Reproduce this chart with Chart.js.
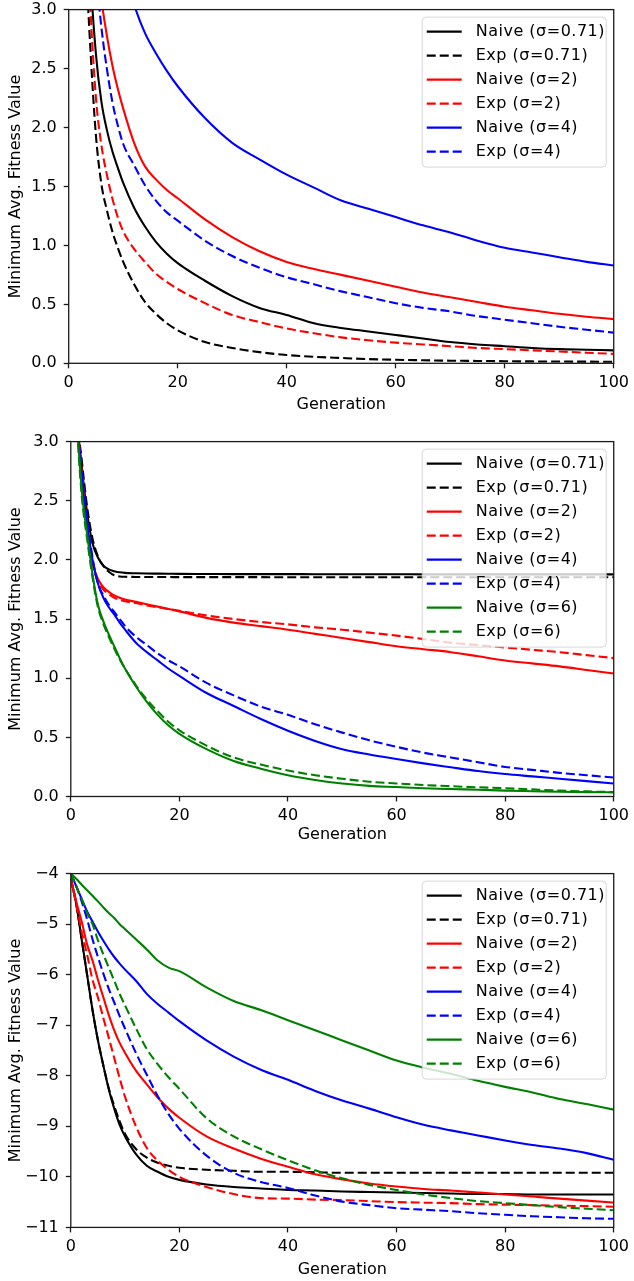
<!DOCTYPE html>
<html>
<head>
<meta charset="utf-8">
<script src="https://cdn.jsdelivr.net/npm/chart.js@4.4.1/dist/chart.umd.min.js"></script>
<style>
  html, body { margin: 0; padding: 0; background: #fff; overflow: hidden; }
  #wrap { position: relative; width: 634px; height: 1281px; }
  #wrap canvas { position: absolute; left: 0; }
</style>
</head>
<body>
<div id="wrap">
  <canvas id="c1" width="634" height="427" style="top:-7px"></canvas>
  <canvas id="c2" width="634" height="425" style="top:425px"></canvas>
  <canvas id="c3" width="634" height="428" style="top:857.3px"></canvas>
</div>
<script>
// sampled generations (shared by all three panels)
const generations = [0, 1, 2, 3, 4, 5, 6, 7, 8, 9, 10, 12, 14, 16, 18, 20, 25, 30, 35, 40, 45, 50, 55, 60, 65, 70, 75, 80, 85, 90, 95, 100];

const labels4 = ['Naive (σ=0.71)', 'Exp (σ=0.71)', 'Naive (σ=2)', 'Exp (σ=2)', 'Naive (σ=4)', 'Exp (σ=4)'];
const labels6 = labels4.concat(['Naive (σ=6)', 'Exp (σ=6)']);

// top panel
const p1Naive071 = [9, 7.5, 6, 4.6, 3.3, 2.62, 2.22, 1.98, 1.8, 1.66, 1.53, 1.32, 1.16, 1.03, 0.93, 0.85, 0.70, 0.57, 0.47, 0.41, 0.34, 0.30, 0.27, 0.24, 0.21, 0.18, 0.16, 0.145, 0.13, 0.12, 0.115, 0.11];
const p1Exp071 = [9, 7, 5, 3.6, 2.65, 1.93, 1.52, 1.3, 1.12, 0.98, 0.86, 0.67, 0.52, 0.42, 0.34, 0.28, 0.18, 0.13, 0.095, 0.07, 0.055, 0.045, 0.036, 0.03, 0.026, 0.022, 0.02, 0.018, 0.016, 0.015, 0.014, 0.013];
const p1Naive2 = [10, 8, 6.5, 5, 4, 3.45, 3.08, 2.78, 2.53, 2.33, 2.16, 1.87, 1.67, 1.56, 1.47, 1.40, 1.22, 1.07, 0.95, 0.86, 0.8, 0.75, 0.7, 0.65, 0.6, 0.56, 0.52, 0.48, 0.45, 0.42, 0.395, 0.375];
const p1Exp2 = [10, 8, 6, 4.2, 3.0, 2.25, 1.85, 1.6, 1.4, 1.24, 1.12, 0.97, 0.86, 0.76, 0.69, 0.63, 0.51, 0.41, 0.35, 0.295, 0.255, 0.22, 0.195, 0.175, 0.16, 0.145, 0.13, 0.12, 0.11, 0.1, 0.09, 0.08];
const p1Naive4 = [12, 10, 8.5, 7.2, 6.2, 5.4, 4.8, 4.3, 3.9, 3.6, 3.35, 3.04, 2.8, 2.63, 2.48, 2.35, 2.08, 1.87, 1.73, 1.6, 1.49, 1.38, 1.31, 1.24, 1.17, 1.11, 1.04, 0.98, 0.94, 0.9, 0.86, 0.83];
const p1Exp4 = [10, 8, 6.5, 5.2, 4.1, 3.35, 2.85, 2.5, 2.22, 2.02, 1.86, 1.68, 1.51, 1.38, 1.28, 1.21, 1.04, 0.91, 0.81, 0.73, 0.67, 0.61, 0.56, 0.51, 0.47, 0.44, 0.4, 0.37, 0.34, 0.31, 0.285, 0.26];

// middle panel
const p2Naive071 = [4.4, 3.3, 2.8, 2.4, 2.14, 2.02, 1.95, 1.92, 1.905, 1.895, 1.89, 1.887, 1.885, 1.884, 1.883, 1.882, 1.881, 1.880, 1.880, 1.880, 1.879, 1.879, 1.879, 1.879, 1.878, 1.878, 1.878, 1.878, 1.878, 1.878, 1.878, 1.878];
const p2Exp071 = [4.4, 3.3, 2.85, 2.45, 2.18, 2.03, 1.95, 1.9, 1.87, 1.86, 1.857, 1.856, 1.855, 1.855, 1.855, 1.854, 1.854, 1.854, 1.854, 1.853, 1.853, 1.853, 1.853, 1.853, 1.853, 1.853, 1.853, 1.853, 1.853, 1.853, 1.853, 1.853];
const p2Naive2 = [4.4, 3.3, 2.75, 2.3, 1.98, 1.84, 1.77, 1.73, 1.70, 1.68, 1.665, 1.645, 1.625, 1.605, 1.585, 1.565, 1.51, 1.47, 1.44, 1.41, 1.375, 1.34, 1.305, 1.27, 1.245, 1.22, 1.185, 1.15, 1.125, 1.10, 1.07, 1.04];
const p2Exp2 = [4.4, 3.3, 2.75, 2.3, 1.97, 1.82, 1.75, 1.71, 1.68, 1.665, 1.65, 1.635, 1.615, 1.6, 1.585, 1.57, 1.53, 1.5, 1.475, 1.455, 1.43, 1.41, 1.385, 1.36, 1.33, 1.30, 1.28, 1.26, 1.24, 1.22, 1.195, 1.17];
const p2Naive4 = [4.4, 3.3, 2.7, 2.3, 2.0, 1.8, 1.68, 1.6, 1.54, 1.47, 1.41, 1.30, 1.22, 1.15, 1.08, 1.02, 0.875, 0.765, 0.655, 0.556, 0.47, 0.40, 0.355, 0.317, 0.28, 0.247, 0.215, 0.19, 0.17, 0.15, 0.13, 0.11];
const p2Exp4 = [4.4, 3.3, 2.75, 2.35, 2.02, 1.8, 1.7, 1.62, 1.56, 1.5, 1.44, 1.35, 1.28, 1.21, 1.15, 1.1, 0.96, 0.855, 0.76, 0.69, 0.61, 0.54, 0.475, 0.42, 0.37, 0.33, 0.29, 0.25, 0.225, 0.2, 0.18, 0.16];
const p2Naive6 = [4.3, 3.3, 2.6, 2.22, 1.88, 1.62, 1.48, 1.37, 1.27, 1.17, 1.08, 0.93, 0.80, 0.69, 0.60, 0.53, 0.40, 0.30, 0.235, 0.18, 0.14, 0.11, 0.09, 0.08, 0.07, 0.063, 0.057, 0.05, 0.045, 0.04, 0.037, 0.035];
const p2Exp6 = [4.3, 3.25, 2.55, 2.18, 1.85, 1.6, 1.46, 1.35, 1.25, 1.16, 1.08, 0.94, 0.82, 0.72, 0.63, 0.56, 0.43, 0.33, 0.27, 0.22, 0.18, 0.15, 0.125, 0.11, 0.097, 0.087, 0.078, 0.07, 0.06, 0.05, 0.043, 0.037];

// bottom panel
const p3Naive071 = [-4.1, -4.6, -5.3, -6.0, -6.7, -7.3, -7.8, -8.27, -8.65, -8.97, -9.2, -9.55, -9.78, -9.9, -10.0, -10.06, -10.15, -10.2, -10.23, -10.26, -10.27, -10.29, -10.3, -10.31, -10.32, -10.33, -10.34, -10.34, -10.35, -10.35, -10.35, -10.35];
const p3Exp071 = [-4.1, -4.6, -5.3, -6.0, -6.7, -7.3, -7.8, -8.25, -8.6, -8.9, -9.15, -9.45, -9.62, -9.72, -9.78, -9.82, -9.86, -9.88, -9.9, -9.9, -9.91, -9.92, -9.92, -9.92, -9.92, -9.92, -9.92, -9.92, -9.92, -9.92, -9.92, -9.92];
const p3Naive2 = [-4.1, -4.55, -4.95, -5.4, -5.72, -6.1, -6.45, -6.8, -7.1, -7.35, -7.55, -7.9, -8.17, -8.43, -8.65, -8.83, -9.2, -9.44, -9.64, -9.8, -9.95, -10.05, -10.13, -10.19, -10.24, -10.27, -10.31, -10.35, -10.39, -10.43, -10.47, -10.51];
const p3Exp2 = [-4.1, -4.6, -5.15, -5.6, -6.1, -6.45, -6.86, -7.25, -7.65, -8.05, -8.42, -9.0, -9.43, -9.68, -9.86, -10.0, -10.2, -10.34, -10.42, -10.43, -10.45, -10.46, -10.48, -10.5, -10.51, -10.52, -10.54, -10.55, -10.56, -10.57, -10.58, -10.59];
const p3Naive4 = [-4.0, -4.25, -4.5, -4.75, -4.95, -5.15, -5.33, -5.5, -5.65, -5.78, -5.9, -6.12, -6.38, -6.58, -6.75, -6.92, -7.3, -7.62, -7.88, -8.08, -8.3, -8.49, -8.65, -8.82, -8.97, -9.08, -9.18, -9.28, -9.37, -9.44, -9.53, -9.66];
const p3Exp4 = [-4.0, -4.25, -4.55, -4.9, -5.3, -5.65, -5.98, -6.28, -6.55, -6.82, -7.07, -7.55, -7.98, -8.4, -8.76, -9.05, -9.58, -9.92, -10.1, -10.22, -10.37, -10.49, -10.56, -10.62, -10.65, -10.68, -10.72, -10.75, -10.78, -10.8, -10.82, -10.83];
const p3Naive6 = [-4.0, -4.1, -4.22, -4.33, -4.44, -4.55, -4.67, -4.78, -4.88, -5.0, -5.1, -5.3, -5.5, -5.72, -5.86, -5.93, -6.25, -6.52, -6.7, -6.9, -7.1, -7.3, -7.5, -7.7, -7.84, -7.96, -8.1, -8.22, -8.33, -8.46, -8.56, -8.67];
const p3Exp6 = [-4.0, -4.25, -4.5, -4.78, -5.0, -5.32, -5.6, -5.86, -6.12, -6.38, -6.61, -7.06, -7.47, -7.77, -8.03, -8.26, -8.84, -9.2, -9.45, -9.67, -9.87, -10.03, -10.16, -10.26, -10.35, -10.42, -10.48, -10.52, -10.56, -10.6, -10.63, -10.66];

const lineColors = ['#000000', '#000000', '#ff0000', '#ff0000', '#0000ff', '#0000ff', '#008000', '#008000'];
const dashed = [false, true, false, true, false, true, false, true];

Chart.defaults.font.family = '"DejaVu Sans", sans-serif';
Chart.defaults.font.size = 16;
Chart.defaults.color = '#000';

const spineColor = '#1a1a1a';

// legend box drawn inside the plot, upper right
const insideLegend = {
    id: 'insideLegend',
    afterDatasetsDraw(chart) {
        const { ctx, chartArea } = chart;
        const sets = chart.data.datasets;
        const w = 184, h = 24 * sets.length + 6;
        const x = chartArea.right - 8 - w;
        const y = chartArea.top + 7;
        ctx.save();
        ctx.beginPath();
        ctx.roundRect(x + 0.5, y + 0.5, w, h, 4);
        ctx.fillStyle = 'rgba(255,255,255,0.8)';
        ctx.fill();
        ctx.strokeStyle = 'rgba(204,204,204,0.8)';
        ctx.lineWidth = 1;
        ctx.stroke();
        ctx.font = '16px "DejaVu Sans"';
        ctx.letterSpacing = '0.5px';
        ctx.textBaseline = 'middle';
        sets.forEach((ds, i) => {
            const cy = y + 15 + 24 * i;
            ctx.beginPath();
            ctx.setLineDash(ds.borderDash || []);
            ctx.strokeStyle = ds.borderColor;
            ctx.lineWidth = ds.borderWidth;
            ctx.moveTo(x + 5, cy);
            ctx.lineTo(x + 40, cy);
            ctx.stroke();
            ctx.setLineDash([]);
            ctx.fillStyle = '#000';
            ctx.fillText(ds.label, x + 54, cy);
        });
        ctx.restore();
    }
};

// four-sided frame round the plot
const frame = {
    id: 'frame',
    afterDraw(chart) {
        const { ctx, chartArea: a } = chart;
        ctx.save();
        ctx.strokeStyle = spineColor;
        ctx.lineWidth = 1.3;
        ctx.strokeRect(a.left, a.top, a.right - a.left, a.bottom - a.top);
        ctx.restore();
    }
};

function minusSign(v) {
    return v < 0 ? '\u2212' + Math.abs(v) : String(v);
}

function drawPanel(id, series, labels, yMin, yMax, yStep, yFormat, box) {
    const canvas = document.getElementById(id);
    const H = canvas.height;
    const datasets = series.map((vals, i) => ({
        label: labels[i],
        data: generations.map((g, j) => ({ x: g, y: vals[j] })),
        borderColor: lineColors[i],
        borderWidth: 2.1,
        borderDash: dashed[i] ? [9, 4] : [],
        pointRadius: 0,
        fill: false,
        cubicInterpolationMode: 'monotone',
        order: series.length - i
    }));

    new Chart(canvas, {
        type: 'line',
        data: { datasets },
        options: {
            responsive: false,
            animation: false,
            devicePixelRatio: 1,
            layout: { padding: { top: box.top, right: 634 - box.right, left: 0, bottom: 0 } },
            plugins: { legend: { display: false }, tooltip: { enabled: false } },
            scales: {
                x: {
                    type: 'linear',
                    min: 0,
                    max: 100,
                    ticks: { stepSize: 20, maxRotation: 0, padding: 5, color: '#000' },
                    grid: { drawOnChartArea: false, tickLength: 5, tickColor: spineColor, tickWidth: 1.3 },
                    border: { display: false },
                    title: { display: true, text: 'Generation', color: '#000', padding: { top: 0, bottom: box.titlePad } },
                    afterFit(scale) { scale.height = H - box.bottom; }
                },
                y: {
                    min: yMin,
                    max: yMax,
                    ticks: { stepSize: yStep, padding: 7, color: '#000', callback: yFormat },
                    grid: { drawOnChartArea: false, tickLength: 5, tickColor: spineColor, tickWidth: 1.3 },
                    border: { display: false },
                    title: { display: true, text: 'Minimum Avg. Fitness Value', color: '#000', padding: { top: 6, bottom: 0 } },
                    afterFit(scale) { scale.width = box.left; }
                }
            }
        },
        plugins: [insideLegend, frame]
    });
}

drawPanel('c1', [p1Naive071, p1Exp071, p1Naive2, p1Exp2, p1Naive4, p1Exp4], labels4,
    0, 3, 0.5, v => v.toFixed(1),
    { left: 68.7, right: 616.7, top: 15, bottom: 370.3, titlePad: 5.4 });

drawPanel('c2', [p2Naive071, p2Exp071, p2Naive2, p2Exp2, p2Naive4, p2Exp4, p2Naive6, p2Exp6], labels6,
    0, 3, 0.5, v => v.toFixed(1),
    { left: 70.8, right: 619.3, top: 15, bottom: 371.5, titlePad: 5.4 });

drawPanel('c3', [p3Naive071, p3Exp071, p3Naive2, p3Exp2, p3Naive4, p3Exp4, p3Naive6, p3Exp6], labels6,
    -11, -4, 1, minusSign,
    { left: 70.8, right: 619.3, top: 15, bottom: 370.4, titlePad: 5.7 });
</script>
</body>
</html>
